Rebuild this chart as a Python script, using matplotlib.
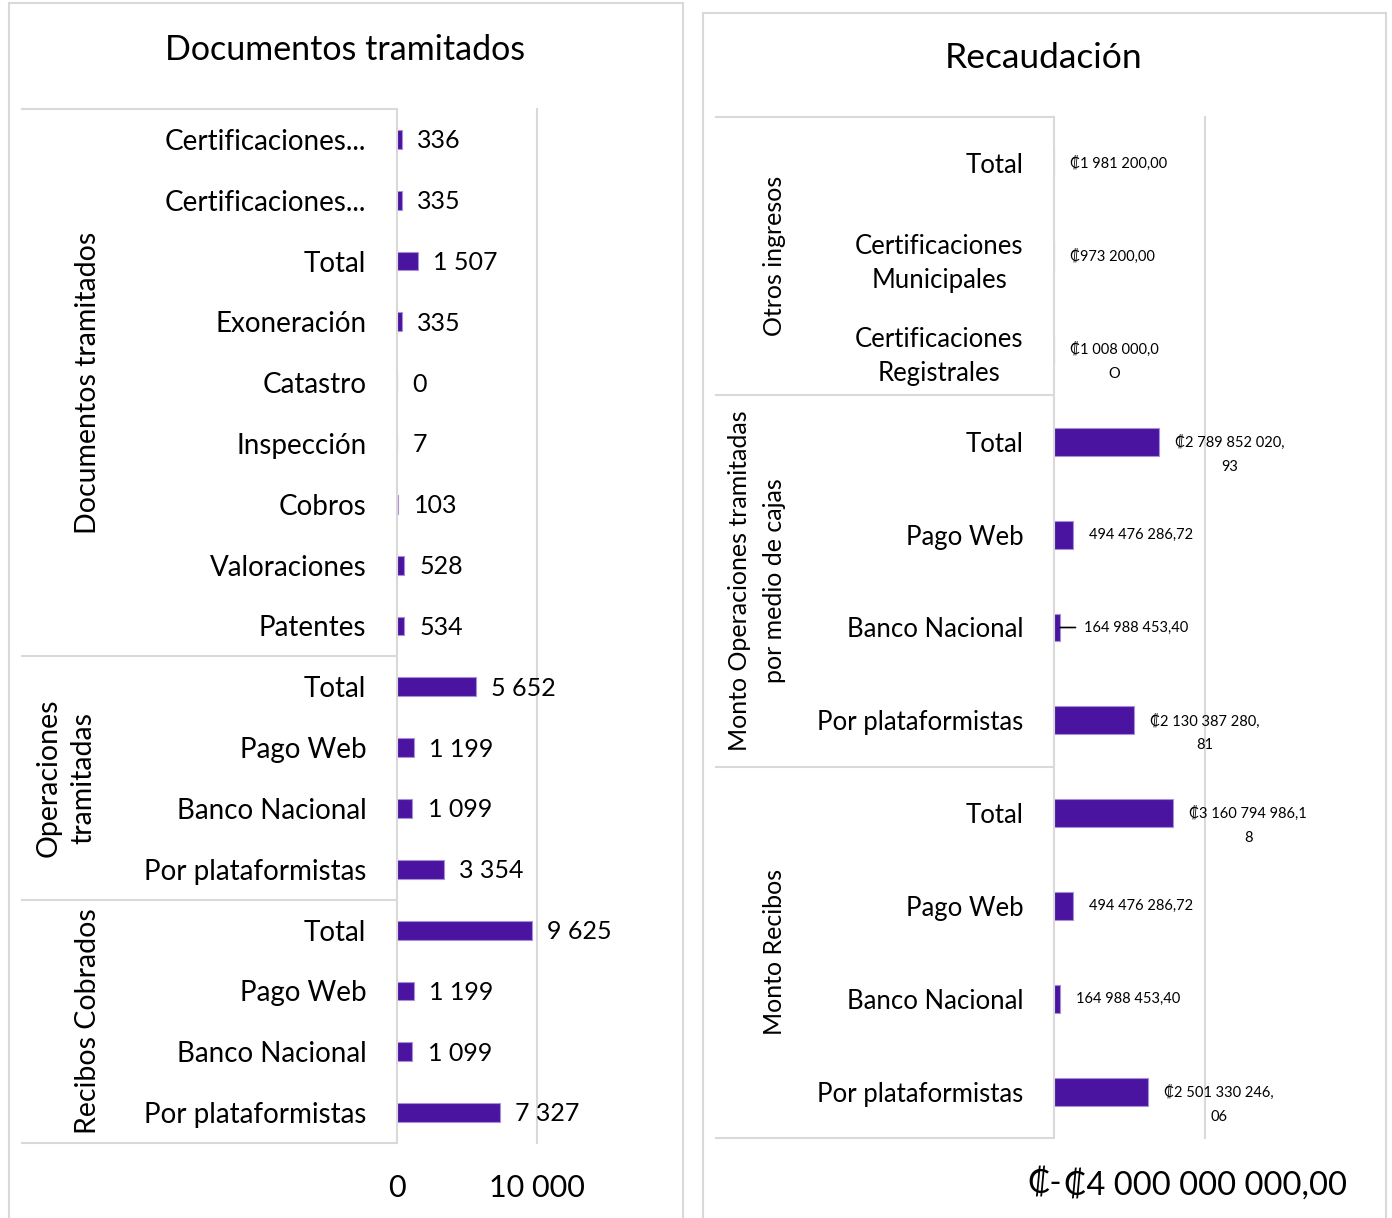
import matplotlib.pyplot as plt
import matplotlib.transforms as mtransforms
from matplotlib.patches import Rectangle

plt.rcParams['font.family'] = ['Lato', 'DejaVu Sans']

# ! -------------
# ! Data
doc_cats = ['Certificaciones...', 'Certificaciones...', 'Total', 'Exoneración', 'Catastro',
            'Inspección', 'Cobros', 'Valoraciones', 'Patentes',
            'Total', 'Pago Web', 'Banco Nacional', 'Por plataformistas',
            'Total', 'Pago Web', 'Banco Nacional', 'Por plataformistas']
doc_vals = [336, 335, 1507, 335, 0, 7, 103, 528, 534,
            5652, 1199, 1099, 3354,
            9625, 1199, 1099, 7327]
doc_groups = ['Documentos tramitados', 'Operaciones\ntramitadas', 'Recibos Cobrados']
doc_group_sizes = [9, 4, 4]

rec_cats = ['Total', 'Certificaciones\nMunicipales', 'Certificaciones\nRegistrales',
            'Total', 'Pago Web', 'Banco Nacional', 'Por plataformistas',
            'Total', 'Pago Web', 'Banco Nacional', 'Por plataformistas']
rec_vals = [1981200.00, 973200.00, 1008000.00,
            2789852020.93, 494476286.72, 164988453.40, 2130387280.81,
            3160794986.18, 494476286.72, 164988453.40, 2501330246.06]
rec_labels = ['₡1 981 200,00', '₡973 200,00', '₡1 008 000,0\nO',
              '₡2 789 852 020,\n93', '494 476 286,72', '164 988 453,40', '₡2 130 387 280,\n81',
              '₡3 160 794 986,1\n8', '494 476 286,72', '164 988 453,40', '₡2 501 330 246,\n06']
rec_groups = ['Otros ingresos', 'Monto Operaciones tramitadas\npor medio de cajas', 'Monto Recibos']
rec_group_sizes = [3, 4, 4]

BAR = '#4a14a0'
GRID = '#d9d9d9'
W, H = 1392, 1218

fig = plt.figure(figsize=(W / 100, H / 100), dpi=100)


def fx(px):
    return px / W


def fy(py):
    return 1 - py / H


# panel borders
fig.patches.append(Rectangle((fx(9), fy(1230)), fx(683) - fx(9), fy(3) - fy(1230),
                             transform=fig.transFigure, fill=False, edgecolor=GRID, lw=1.5))
fig.patches.append(Rectangle((fx(703), fy(1230)), fx(1386) - fx(703), fy(13) - fy(1230),
                             transform=fig.transFigure, fill=False, edgecolor=GRID, lw=1.5))


def setup(ax, cats, catfs, xlim, xticks, xticklabels, tickfs):
    n = len(cats)
    ax.set_xlim(*xlim)
    ax.set_ylim(n - 0.5, -0.5)
    ax.set_yticks(range(n))
    ax.set_yticklabels(cats, fontsize=catfs)
    for lab in ax.get_yticklabels():
        lab.set_multialignment('center')
        lab.set_linespacing(1.45)
    ax.set_xticks(xticks)
    ax.set_xticklabels(xticklabels, fontsize=tickfs)
    ax.tick_params(axis='both', length=0)
    ax.tick_params(axis='y', pad=22)
    ax.tick_params(axis='x', pad=22)
    for s in ['top', 'bottom']:
        ax.spines[s].set_visible(False)
    for s in ['left', 'right']:
        ax.spines[s].set_color(GRID)
        ax.spines[s].set_linewidth(1.5)


def groups(ax, names, sizes, x0, x1, xs, fs, ls):
    trans = mtransforms.blended_transform_factory(fig.transFigure, ax.transData)
    start = -0.5
    ax.plot([fx(x0), fx(x1)], [start, start], transform=trans, color=GRID, lw=1.5, clip_on=False)
    for name, size, x in zip(names, sizes, xs):
        end = start + size
        ax.plot([fx(x0), fx(x1)], [end, end], transform=trans, color=GRID, lw=1.5, clip_on=False)
        ax.text(fx(x), (start + end) / 2, name, transform=trans, rotation=90,
                ha='center', va='center', fontsize=fs, multialignment='center', linespacing=ls)
        start = end


# ! -------------
# ! Documentos tramitados
ax1 = fig.add_axes([fx(397), fy(1143), fx(537) - fx(397), fy(109) - fy(1143)])
ax1.barh(range(len(doc_vals)), doc_vals, height=0.31, color=BAR, edgecolor='#a890d8', lw=0.8)
setup(ax1, doc_cats, 20, (0, 10000), [0, 10000], ['0', '10 000'], 22)
for i, v in enumerate(doc_vals):
    ax1.annotate(f'{v:,}'.replace(',', ' '), (v, i), xytext=(11, -1), textcoords='offset points',
                 ha='left', va='center', fontsize=18, annotation_clip=False)
groups(ax1, doc_groups, doc_group_sizes, 22, 396, [88, 66, 88], 20.5, 1.45)
fig.text(fx(345), fy(50), 'Documentos tramitados', ha='center', va='center', fontsize=24.5)

# ! -------------
# ! Recaudación
ax2 = fig.add_axes([fx(1054), fy(1138), fx(1205) - fx(1054), fy(117) - fy(1138)])
ax2.barh(range(len(rec_vals)), rec_vals, height=0.3, color=BAR, edgecolor='#a890d8', lw=0.8)
setup(ax2, rec_cats, 18.5, (0, 4e9), [0, 4e9], ['₡-', '₡4 000 000 000,00'], 23.5)
zero_lab = ax2.get_xticklabels()[0]
zero_lab.set_horizontalalignment('right')
zero_lab.set_transform(zero_lab.get_transform() +
                       mtransforms.ScaledTranslation(6 / 72, 0, fig.dpi_scale_trans))
for i, (v, lab) in enumerate(zip(rec_vals, rec_labels)):
    shift = 0.135 * lab.count('\n')
    if i == 5:
        ax2.annotate(lab, (v, i), xytext=(17, 0), textcoords='offset points',
                     ha='left', va='center', fontsize=10.5, annotation_clip=False,
                     arrowprops=dict(arrowstyle='-', color='black', lw=1.2,
                                     shrinkA=4, shrinkB=0))
    else:
        ax2.annotate(lab, (v, i + shift), xytext=(11.5, 0), textcoords='offset points',
                     ha='left', va='center', fontsize=10.5, multialignment='center',
                     linespacing=1.9, annotation_clip=False)
groups(ax2, rec_groups, rec_group_sizes, 716, 1053, [775, 757, 775], 18, 1.6)
fig.text(fx(1044), fy(58), 'Recaudación', ha='center', va='center', fontsize=25.5)

plt.savefig('out.png', dpi=100)
